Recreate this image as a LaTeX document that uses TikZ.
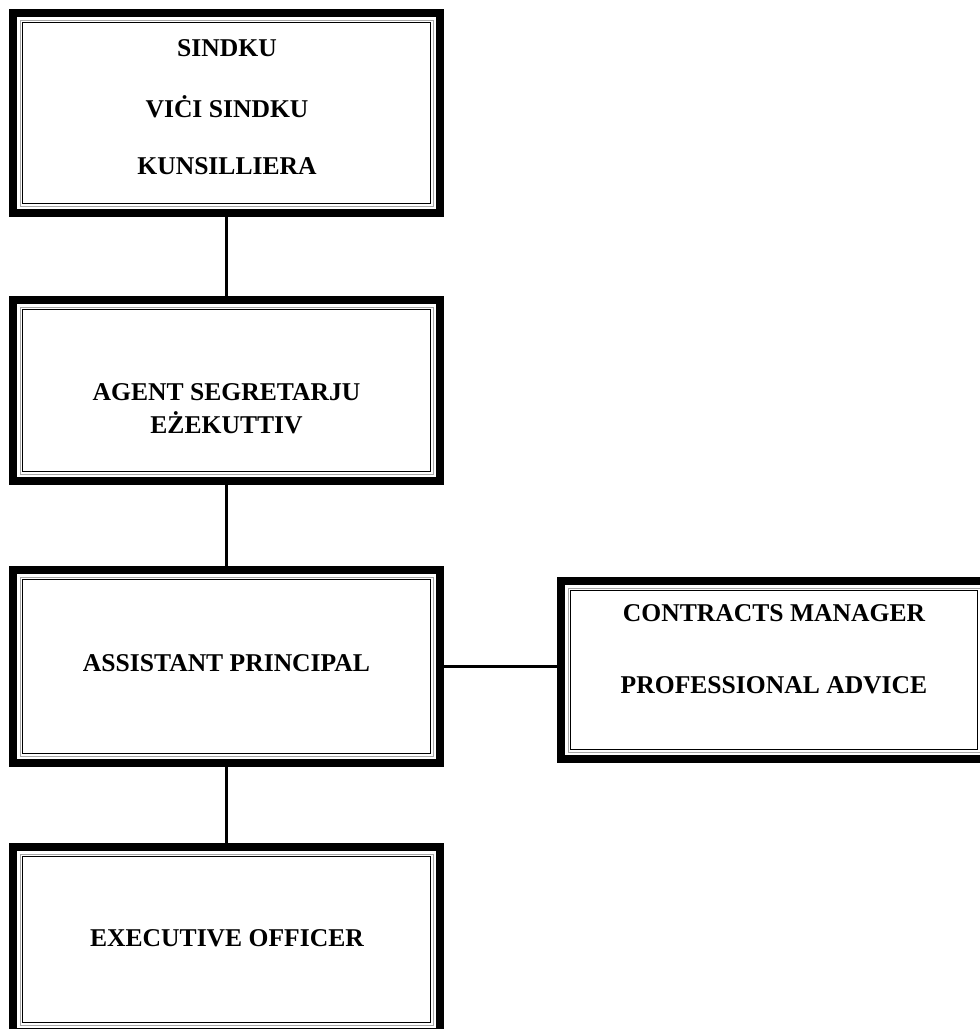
\documentclass[tikz,border=0pt]{standalone}
\usepackage{fontspec}
\setmainfont{Liberation Serif}
\begin{document}
\begin{tikzpicture}[x=1pt,y=-1pt,
  box/.style={draw=black, line width=8pt, rectangle, inner sep=0pt, fill=white},
  lbl/.style={font=\fontsize{25.6}{30}\selectfont\bfseries, inner sep=0pt, anchor=center, text=black},
  conn/.style={draw=black, line width=3.5pt}]
\useasboundingbox (0,0) rectangle (980,1029);
\clip (0,0) rectangle (980,1029);
% boxes
\node[box, minimum width=427pt, minimum height=200pt] (b1) at (226.5,113) {};
\node[box, minimum width=427pt, minimum height=181pt] (b2) at (226.5,390.5) {};
\node[box, minimum width=427pt, minimum height=193pt] (b3) at (226.5,666.5) {};
\node[box, minimum width=427pt, minimum height=185pt] (b4) at (226.5,939.5) {};
\node[box, minimum width=426pt, minimum height=178pt] (r1) at (774,670) {};
% inner thin frames
\foreach \n in {b1,b2,b3,b4,r1}{
  \draw[line width=0.8pt, gray!70] ([shift={(11,11)}]\n.north west) rectangle ([shift={(-11,-11)}]\n.south east);
  \draw[line width=1.8pt] ([shift={(13.5,13.5)}]\n.north west) rectangle ([shift={(-13.5,-13.5)}]\n.south east);
}
% connectors
\draw[conn] (b1.south) -- (b2.north);
\draw[conn] (b2.south) -- (b3.north);
\draw[conn] (b3.south) -- (b4.north);
\draw[conn] (b3.east) -- (b3.east -| r1.west);
% texts
\node[lbl] (t1) at (227,48) {SINDKU};
\node[lbl] (t2) at (227,107) {VIĊI SINDKU};
\node[lbl] (t3) at (227,166) {KUNSILLIERA};
\node[lbl] (t4) at (226.5,392) {AGENT SEGRETARJU};
\node[lbl] (t5) at (226.5,423) {EŻEKUTTIV};
\node[lbl] (t6) at (226.5,663) {ASSISTANT PRINCIPAL};
\node[lbl] (t7) at (774,613) {CONTRACTS MANAGER};
\node[lbl] (t8) at (774,685) {PROFESSIONAL ADVICE};
\node[lbl] (t9) at (227,938) {EXECUTIVE OFFICER};
\end{tikzpicture}
\end{document}
